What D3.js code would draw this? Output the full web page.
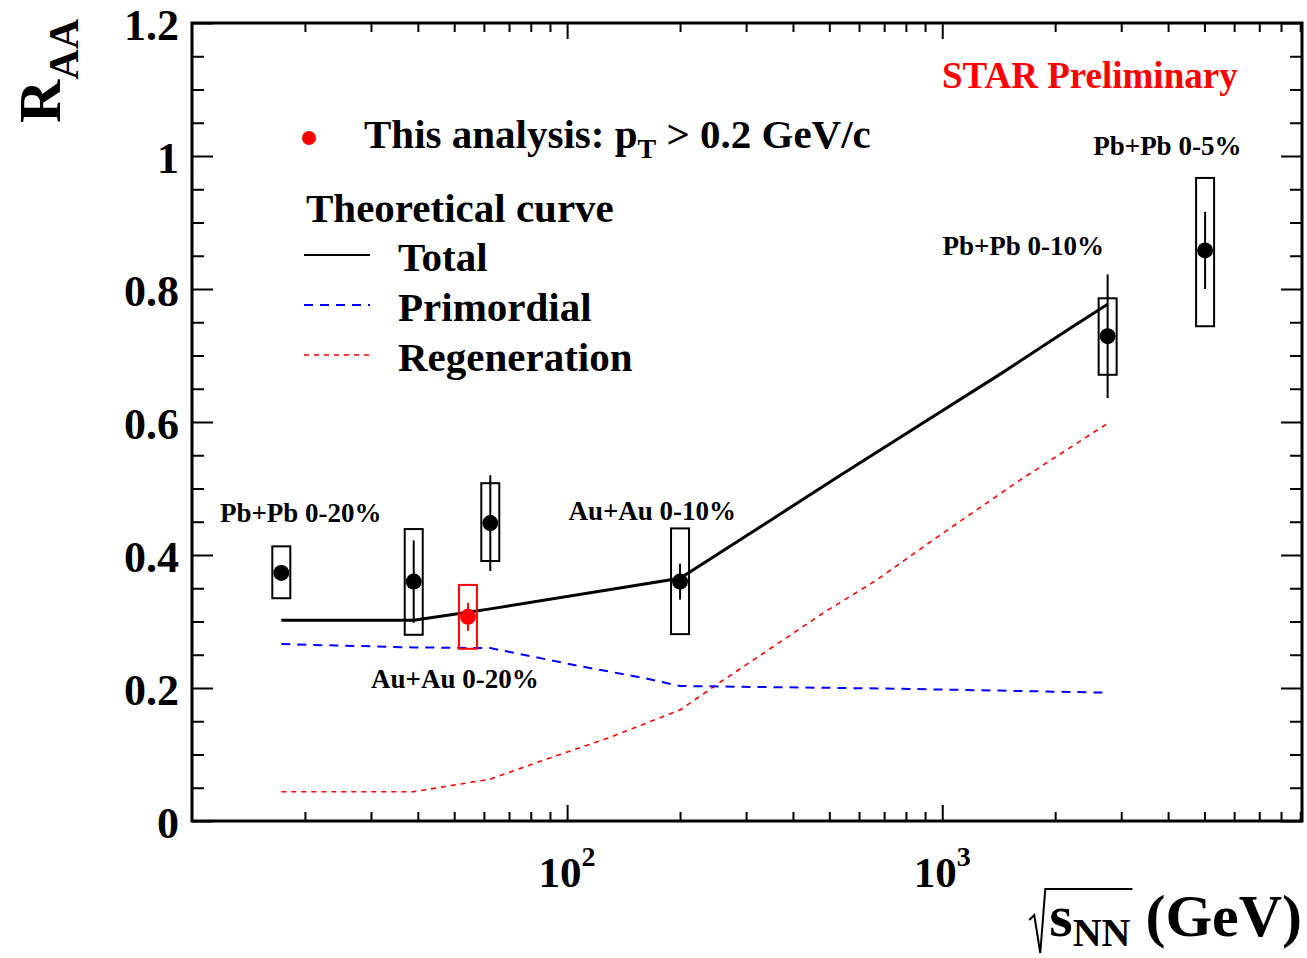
<!DOCTYPE html>
<html>
<head>
<meta charset="utf-8">
<script src="https://cdn.jsdelivr.net/npm/d3@7"></script>
<style>
  html, body { margin: 0; padding: 0; background: #fff; }
  svg { display: block; font-family: 'Liberation Serif', 'Times New Roman', serif; font-weight: bold; }
</style>
</head>
<body>
<svg id="chart"></svg>
<script>
// Measured J/psi R_AA (other experiments / energies)
const energies = [17.3, 39, 62.4, 200, 2760, 5020];
const raa = [0.373, 0.360, 0.448, 0.360, 0.729, 0.858];
const statErr = [0.010, 0.062, 0.072, 0.027, 0.093, 0.058];
const sysLow = [0.335, 0.280, 0.391, 0.281, 0.671, 0.744];
const sysHigh = [0.413, 0.439, 0.508, 0.440, 0.786, 0.967];

// This analysis
const thisEnergy = [54.4];
const thisRaa = [0.307];
const thisStat = [0.021];
const thisSysLow = [0.259];
const thisSysHigh = [0.355];

// Theoretical curves
const totalE = [17.3, 39, 54.4, 62.4, 200, 348, 525, 873, 1455, 2193, 2760];
const totalR = [0.302, 0.302, 0.314, 0.319, 0.365, 0.452, 0.517, 0.596, 0.675, 0.741, 0.777];
const primE = [17.3, 39, 62.4, 108, 160, 200, 745, 2760];
const primR = [0.266, 0.261, 0.260, 0.233, 0.215, 0.203, 0.199, 0.193];
const regenE = [17.3, 39, 62.4, 87, 129, 200, 261, 354, 482, 667, 970, 1615, 2760];
const regenR = [0.044, 0.044, 0.063, 0.092, 0.125, 0.167, 0.212, 0.262, 0.313, 0.362, 0.427, 0.513, 0.598];

// Collision system labels
const labelText = ['Pb+Pb 0-20%', 'Au+Au 0-20%', 'Au+Au 0-10%', 'Pb+Pb 0-10%', 'Pb+Pb 0-5%'];
const labelE = [19.5, 50.2, 168.6, 1644, 3981];
const labelR = [0.450, 0.200, 0.453, 0.851, 1.001];

// Axis ticks
const yTicks = [0, 0.2, 0.4, 0.6, 0.8, 1, 1.2];
const yTickLabels = ['0', '0.2', '0.4', '0.6', '0.8', '1', '1.2'];
const xTicks = [100, 1000];
const xTickExp = ['2', '3'];

(function() {

    const w = 1307;
    const h = 958;

    const svg = d3.select('#chart')
        .attr('width', w)
        .attr('height', h);

    const x = d3.scaleLog().domain([10, 9100]).range([192, 1302]);
    const y = d3.scaleLinear().domain([0, 1.2]).range([821, 23]);

    const left = x.range()[0], right = x.range()[1];
    const bottom = y.range()[0], top = y.range()[1];

    // minor ticks
    const xMinor = [];
    [10, 100, 1000].forEach(dec => {
        for (let k = 2; k <= 9; k++) {
            const v = dec * k;
            if (v < x.domain()[1]) xMinor.push(v);
        }
    });
    const yMinor = d3.range(0.05, 1.2, 0.05).filter(v => Math.abs(v / 0.2 - Math.round(v / 0.2)) > 1e-6);

    const drawAxis = (axis, tx, ty) => {
        const g = svg.append('g')
            .attr('transform', `translate(${tx},${ty})`)
            .call(axis);
        g.select('.domain').remove();
        g.selectAll('line').attr('stroke', '#000').attr('stroke-width', 2);
        return g;
    };

    // bottom + top axes
    drawAxis(d3.axisBottom(x).tickValues(xMinor).tickSize(-9).tickFormat(''), 0, bottom);
    drawAxis(d3.axisBottom(x).tickValues(xTicks).tickSize(-16).tickFormat(''), 0, bottom);
    drawAxis(d3.axisTop(x).tickValues(xMinor).tickSize(-9).tickFormat(''), 0, top);
    drawAxis(d3.axisTop(x).tickValues(xTicks).tickSize(-16).tickFormat(''), 0, top);

    // left + right axes
    drawAxis(d3.axisLeft(y).tickValues(yMinor).tickSize(-12).tickFormat(''), left, 0);
    const yMajor = drawAxis(d3.axisLeft(y).tickValues(yTicks).tickSize(-21).tickPadding(14)
        .tickFormat((d, i) => yTickLabels[i]), left, 0);
    drawAxis(d3.axisRight(y).tickValues(yMinor).tickSize(-12).tickFormat(''), right, 0);
    drawAxis(d3.axisRight(y).tickValues(yTicks).tickSize(-21).tickFormat(''), right, 0);

    yMajor.selectAll('text')
        .attr('font-size', 44)
        .attr('font-family', 'Liberation Serif, serif')
        .attr('font-weight', 'bold')
        .attr('fill', '#000')
        .attr('dy', '0.38em')
        .attr('x', -13);

    // x tick labels 10^n
    const xl = svg.append('g');
    xTicks.forEach((v, i) => {
        const t = xl.append('text')
            .attr('x', x(v))
            .attr('y', 887)
            .attr('text-anchor', 'middle')
            .attr('font-size', 43);
        t.append('tspan').text('10');
        t.append('tspan').attr('font-size', 28).attr('dy', -21).text(xTickExp[i]);
    });

    // frame
    svg.append('rect')
        .attr('x', left)
        .attr('y', top)
        .attr('width', right - left)
        .attr('height', bottom - top)
        .attr('fill', 'none')
        .attr('stroke', '#000')
        .attr('stroke-width', 3);

    // axis titles
    const yTitle = svg.append('text')
        .attr('transform', `translate(60,123) rotate(-90)`)
        .attr('font-size', 60);
    yTitle.append('tspan').text('R');
    yTitle.append('tspan').attr('font-size', 42).attr('dy', 18).text('AA');

    const xTitle = svg.append('text')
        .attr('x', right)
        .attr('y', 936)
        .attr('text-anchor', 'end')
        .attr('font-size', 60);
    xTitle.append('tspan').text('s');
    xTitle.append('tspan').attr('font-size', 40).attr('dy', 10).text('NN');
    xTitle.append('tspan').attr('dy', -10).text(' (GeV)');

    const titleNode = xTitle.node();
    const sx = right - titleNode.getComputedTextLength();
    const nnEnd = sx + titleNode.getSubStringLength(0, 3);
    svg.append('path')
        .attr('d', `M${sx - 20},920 L${sx - 15},915 L${sx - 9},953 L${sx - 4},889 L${nnEnd + 2},889`)
        .attr('fill', 'none')
        .attr('stroke', '#000')
        .attr('stroke-width', 2);

    // theoretical curves
    const line = d3.line().x(d => x(d[0])).y(d => y(d[1]));

    svg.append('path')
        .attr('d', line(d3.zip(regenE, regenR)))
        .attr('fill', 'none')
        .attr('stroke', '#ff0000')
        .attr('stroke-width', 1.6)
        .attr('stroke-dasharray', '5,5');

    svg.append('path')
        .attr('d', line(d3.zip(primE, primR)))
        .attr('fill', 'none')
        .attr('stroke', '#0000ff')
        .attr('stroke-width', 2)
        .attr('stroke-dasharray', '9,7');

    svg.append('path')
        .attr('d', line(d3.zip(totalE, totalR)))
        .attr('fill', 'none')
        .attr('stroke', '#000')
        .attr('stroke-width', 3);

    // data points
    const drawPoints = (es, rs, st, lo, hi, color) => {
        const g = svg.append('g');
        const data = es.map((e, i) => ({ e, r: rs[i], s: st[i], lo: lo[i], hi: hi[i] }));
        g.selectAll('.sys')
            .data(data)
            .enter()
            .append('rect')
            .attr('class', 'sys')
            .attr('x', d => x(d.e) - 9)
            .attr('y', d => y(d.hi))
            .attr('width', 18)
            .attr('height', d => y(d.lo) - y(d.hi))
            .attr('fill', 'none')
            .attr('stroke', color)
            .attr('stroke-width', 2);
        g.selectAll('.stat')
            .data(data)
            .enter()
            .append('line')
            .attr('class', 'stat')
            .attr('x1', d => x(d.e))
            .attr('x2', d => x(d.e))
            .attr('y1', d => y(d.r + d.s))
            .attr('y2', d => y(d.r - d.s))
            .attr('stroke', color)
            .attr('stroke-width', 2);
        g.selectAll('.pt')
            .data(data)
            .enter()
            .append('circle')
            .attr('class', 'pt')
            .attr('cx', d => x(d.e))
            .attr('cy', d => y(d.r))
            .attr('r', 8)
            .attr('fill', color);
    };

    drawPoints(energies, raa, statErr, sysLow, sysHigh, '#000');
    drawPoints(thisEnergy, thisRaa, thisStat, thisSysLow, thisSysHigh, '#ff0000');

    // collision labels
    svg.selectAll('.sys-label')
        .data(labelText)
        .enter()
        .append('text')
        .attr('class', 'sys-label')
        .attr('x', (d, i) => x(labelE[i]))
        .attr('y', (d, i) => y(labelR[i]))
        .attr('text-anchor', 'middle')
        .attr('font-size', 27)
        .text(d => d);

    // STAR Preliminary
    svg.append('text')
        .attr('x', 942)
        .attr('y', 88)
        .attr('font-size', 37)
        .attr('fill', '#ff0000')
        .text('STAR Preliminary');

    // legend
    const lg = svg.append('g');
    lg.append('circle').attr('cx', 309).attr('cy', 138).attr('r', 7).attr('fill', '#ff0000');
    const ta = lg.append('text').attr('x', 364).attr('y', 148).attr('font-size', 41);
    ta.append('tspan').text('This analysis: p');
    ta.append('tspan').attr('font-size', 28).attr('dy', 10).text('T');
    ta.append('tspan').attr('dy', -10).text(' > 0.2 GeV/c');

    lg.append('text').attr('x', 306).attr('y', 222).attr('font-size', 41).text('Theoretical curve');

    const legendRows = [
        { label: 'Total', color: '#000', width: 2, dash: null, y: 255 },
        { label: 'Primordial', color: '#0000ff', width: 2, dash: '9,7', y: 305 },
        { label: 'Regeneration', color: '#ff0000', width: 1.6, dash: '5,5', y: 355 }
    ];
    legendRows.forEach(r => {
        lg.append('line')
            .attr('x1', 304).attr('x2', 370)
            .attr('y1', r.y).attr('y2', r.y)
            .attr('stroke', r.color)
            .attr('stroke-width', r.width)
            .attr('stroke-dasharray', r.dash);
        lg.append('text')
            .attr('x', 398)
            .attr('y', r.y + 16)
            .attr('font-size', 41)
            .text(r.label);
    });

})();
</script>
</body>
</html>
